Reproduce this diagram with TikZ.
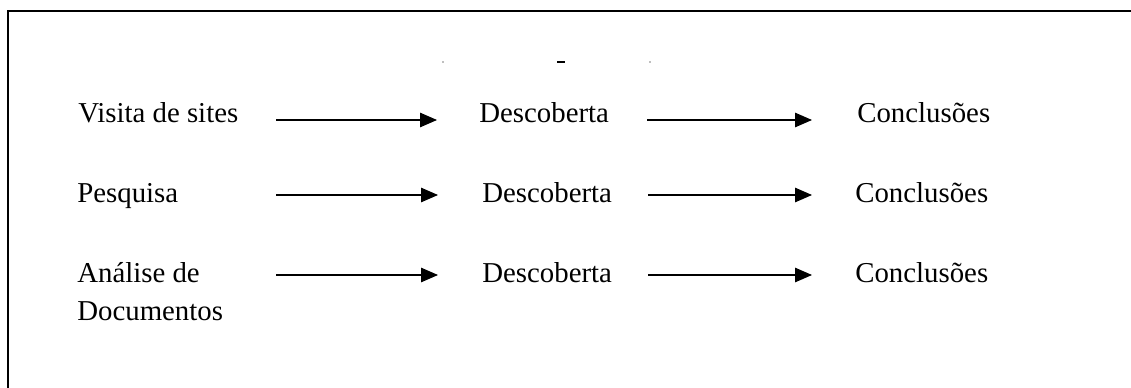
\documentclass[tikz,border=0pt]{standalone}
\usepackage{fontspec}
\setmainfont{Liberation Serif}
\usetikzlibrary{arrows.meta}

\begin{document}
\begin{tikzpicture}[x=0.02cm, y=-0.02cm]
\tikzset{rotulo/.style={anchor=base west, inner sep=0pt, align=left, font=\fontsize{16.4}{21.5}\selectfont},
  seta/.style={-{Triangle[length=0.34cm, width=0.29cm]}, line width=0.65pt}}
\useasboundingbox (0,0) rectangle (1131,388);
\draw[line width=1.1pt] (1131,11) -- (8,11) -- (8,388);
% restos do titulo cortado
\draw[gray!50, line width=0.6pt] (442,62) -- (444,62);
\draw[line width=0.9pt] (557,62) -- (565,62);
\draw[gray!50, line width=0.6pt] (649,62) -- (651,62);
\node[rotulo] (M1) at (78,123) {Visita de sites};
\node[rotulo] (D1) at (479,123) {Descoberta};
\node[rotulo] (C1) at (857,123) {Conclusões};
\node[rotulo] (M2) at (77,202) {Pesquisa};
\node[rotulo] (D2) at (482,202) {Descoberta};
\node[rotulo] (C2) at (855,202) {Conclusões};
% a base do no de duas linhas fica na ultima linha
\node[rotulo] (M3) at (77,320) {Análise de\\Documentos};
\node[rotulo] (D3) at (482,282) {Descoberta};
\node[rotulo] (C3) at (855,282) {Conclusões};
\coordinate (p1) at (276,120);
\coordinate (p2) at (276,195);
\coordinate (p3) at (276,275);
\draw[seta, shorten >=0.84cm] (p1) -- (p1 -| D1.west);
\draw[seta, shorten >=0.88cm] (p2) -- (p2 -| D2.west);
\draw[seta, shorten >=0.88cm] (p3) -- (p3 -| D3.west);
\draw[seta, shorten <=0.76cm, shorten >=0.9cm] (p1 -| D1.east) -- (p1 -| C1.west);
\draw[seta, shorten <=0.72cm, shorten >=0.86cm] (p2 -| D2.east) -- (p2 -| C2.west);
\draw[seta, shorten <=0.72cm, shorten >=0.86cm] (p3 -| D3.east) -- (p3 -| C3.west);
\end{tikzpicture}
\end{document}
